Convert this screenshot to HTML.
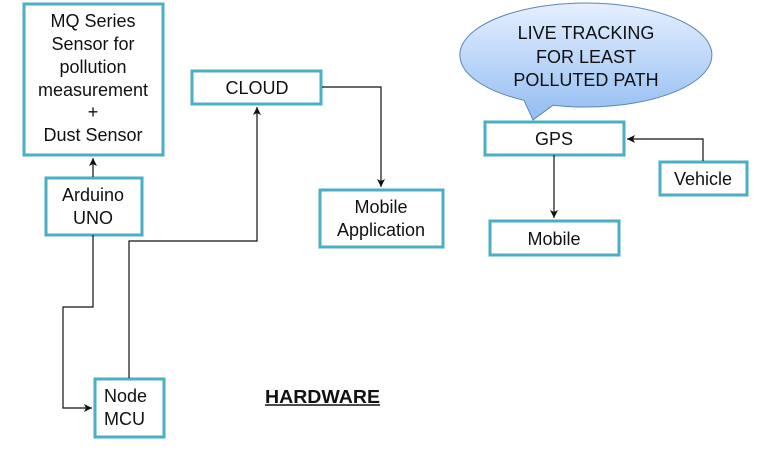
<!DOCTYPE html>
<html><head><meta charset="utf-8"><style>
html,body{margin:0;padding:0;background:#fff;width:767px;height:450px;overflow:hidden}
text{font-family:"Liberation Sans",sans-serif;font-size:18px;fill:#111}
</style></head><body>
<svg width="767" height="450" viewBox="0 0 767 450" xmlns="http://www.w3.org/2000/svg">
<defs>
<linearGradient id="g" x1="0" y1="0" x2="0" y2="1">
<stop offset="0" stop-color="#e6efff"/><stop offset="1" stop-color="#92bdf2"/>
</linearGradient>
<marker id="a" markerWidth="10" markerHeight="10" refX="8" refY="4" orient="auto" markerUnits="userSpaceOnUse">
<path d="M0,0 L8,4 L0,8 L2,4 Z" fill="#111"/>
</marker>
</defs>
<!-- bubble -->
<path d="M524,100.3 A126,52 0 1 1 553,105.2 L533,120 Z" fill="url(#g)" stroke="#5b86b8" stroke-width="1"/>
<text x="586" y="39" text-anchor="middle">LIVE TRACKING</text>
<text x="586" y="63" text-anchor="middle">FOR LEAST</text>
<text x="586" y="86" text-anchor="middle">POLLUTED PATH</text>

<g fill="#fff" stroke="#4aaec4" stroke-width="3">
<rect x="24" y="4" width="139" height="151"/>
<rect x="46" y="178" width="96" height="57"/>
<rect x="192" y="71" width="129" height="33"/>
<rect x="320" y="190" width="123" height="57"/>
<rect x="95" y="379" width="69" height="58"/>
<rect x="485" y="122" width="139" height="33"/>
<rect x="660" y="162" width="87" height="33"/>
<rect x="490" y="221" width="129" height="34"/>
</g>

<g fill="none" stroke="#111" stroke-width="1.2">
<path d="M93,177 L93,158" marker-end="url(#a)"/>
<path d="M93,235 L93,307 L63,307 L63,408 L92,408" marker-end="url(#a)"/>
<path d="M129,378 L129,241 L257,241 L257,107" marker-end="url(#a)"/>
<path d="M322,87 L381,87 L381,187" marker-end="url(#a)"/>
<path d="M554,155 L554,218" marker-end="url(#a)"/>
<path d="M703,161 L703,139 L627,139" marker-end="url(#a)"/>
</g>

<g text-anchor="middle">
<text x="93" y="27">MQ Series</text>
<text x="93" y="50">Sensor for</text>
<text x="93" y="73">pollution</text>
<text x="93" y="96">measurement</text>
<text x="93" y="118">+</text>
<text x="93" y="141">Dust Sensor</text>
<text x="93" y="201">Arduino</text>
<text x="93" y="224">UNO</text>
<text x="257" y="94">CLOUD</text>
<text x="381" y="213">Mobile</text>
<text x="381" y="236">Application</text>
<text x="554" y="145">GPS</text>
<text x="703" y="185">Vehicle</text>
<text x="554" y="245">Mobile</text>
</g>
<text x="104" y="402">Node</text>
<text x="104" y="425">MCU</text>
<text x="265" y="403" style="font-weight:bold" textLength="115" lengthAdjust="spacingAndGlyphs">HARDWARE</text>
<line x1="265" y1="405" x2="380" y2="405" stroke="#111" stroke-width="1.5"/>
</svg>
</body></html>
